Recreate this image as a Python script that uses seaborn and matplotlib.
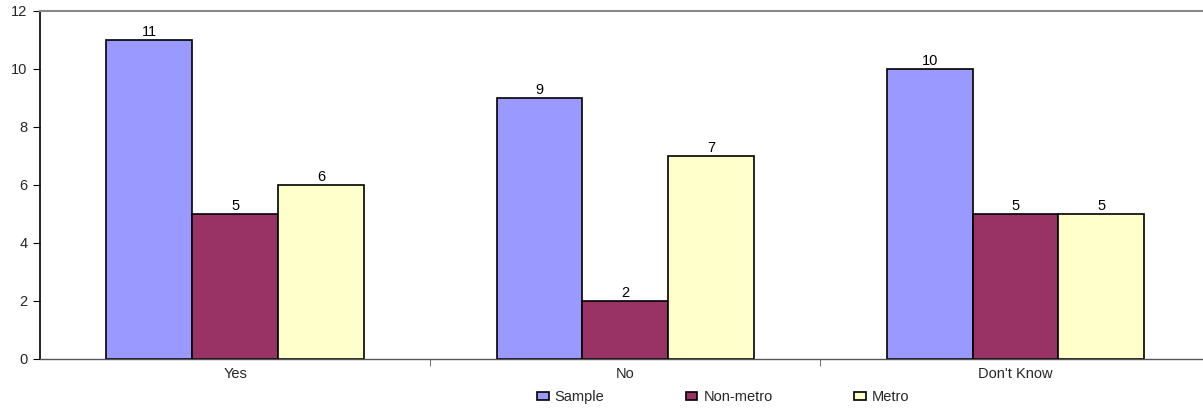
"""Grouped bar chart: Yes / No / Don't Know responses by sample group."""

import matplotlib

matplotlib.use("Agg")

import matplotlib.pyplot as plt
import pandas as pd
import seaborn as sns
from matplotlib.patches import Patch

categories = ["Yes", "No", "Don't Know"]
groups = ["Sample", "Non-metro", "Metro"]
sample_counts = [11, 9, 10]
nonmetro_counts = [5, 2, 5]
metro_counts = [6, 7, 5]
y_ticks = [0, 2, 4, 6, 8, 10, 12]

colors = {"Sample": "#9999FF", "Non-metro": "#993366", "Metro": "#FFFFCC"}


def build_frame() -> pd.DataFrame:
    """Long-format table for seaborn."""
    rows = []
    for grp, vals in zip(groups, [sample_counts, nonmetro_counts, metro_counts]):
        for cat, v in zip(categories, vals):
            rows.append({"answer": cat, "group": grp, "count": v})
    return pd.DataFrame(rows)


def main() -> None:
    sns.set_style("white")
    plt.rcParams["font.family"] = ["Liberation Sans", "DejaVu Sans"]

    df = build_frame()
    fig = plt.figure(figsize=(12.03, 4.13), dpi=100)
    ax = fig.add_axes([0.0333, 0.1308, 0.973, 0.8426])

    sns.barplot(
        data=df,
        x="answer",
        y="count",
        hue="group",
        order=categories,
        hue_order=groups,
        palette=colors,
        saturation=1,
        width=0.66,
        gap=0,
        edgecolor="black",
        linewidth=1.2,
        legend=False,
        ax=ax,
    )
    for cont in ax.containers:
        ax.bar_label(cont, fontsize=10.5, padding=1, color="black")

    ax.set_xlim(-0.5, 2.5)
    ax.set_ylim(0, 12)
    ax.set_yticks(y_ticks)
    ax.set_xlabel("")
    ax.set_ylabel("")
    ax.tick_params(axis="y", which="major", length=5, direction="out",
                   labelsize=10.5, color="black", left=True, pad=4)
    ax.tick_params(axis="x", which="major", length=0, labelsize=10.5, pad=6)
    ax.set_xticks([0.5, 1.5], minor=True)
    ax.tick_params(axis="x", which="minor", length=5, direction="out",
                   color="#555555", bottom=True)

    ax.spines["left"].set_color("black")
    ax.spines["left"].set_linewidth(1.2)
    ax.spines["bottom"].set_color("#555555")
    ax.spines["bottom"].set_linewidth(1.0)
    ax.spines["top"].set_color("#888888")
    ax.spines["top"].set_linewidth(1.5)
    ax.spines["right"].set_visible(False)

    handles = [
        Patch(facecolor=colors[g], edgecolor="black", linewidth=1.2, label=g)
        for g in groups
    ]
    fig.legend(
        handles=handles,
        loc="lower center",
        bbox_to_anchor=(0.601, -0.01),
        ncol=3,
        frameon=False,
        fontsize=10.5,
        handlelength=0.8,
        handleheight=0.5,
        handletextpad=0.4,
        columnspacing=5.6,
    )

    fig.savefig("out.png", dpi=100)
    plt.close(fig)


if __name__ == "__main__":
    main()
